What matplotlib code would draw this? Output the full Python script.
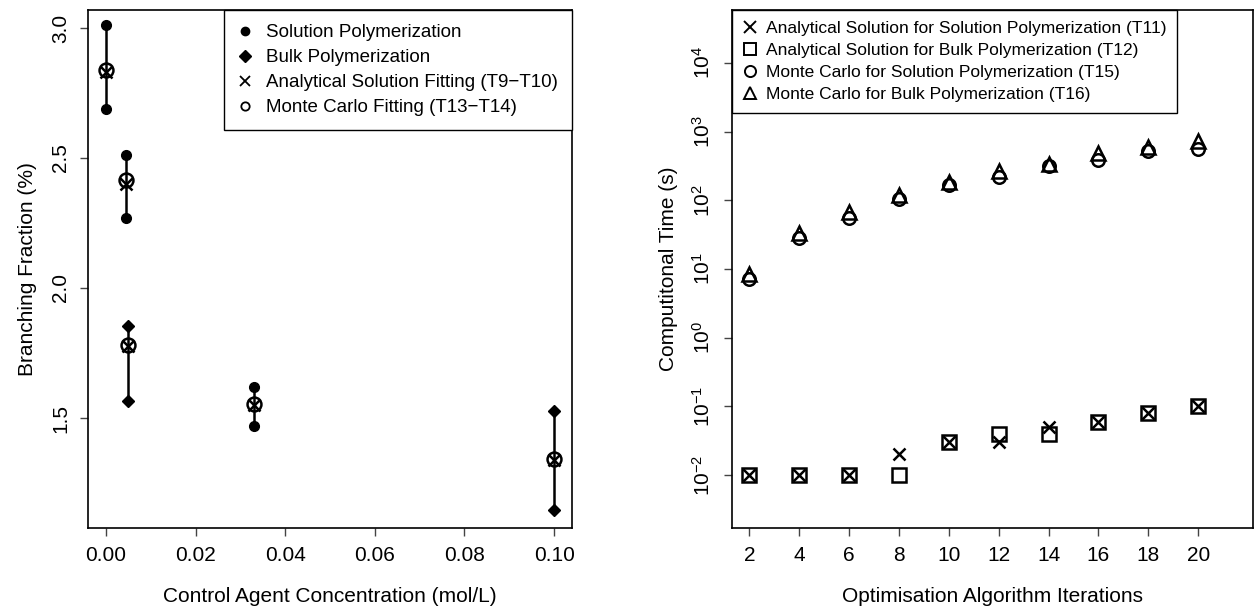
import numpy as np
import matplotlib
matplotlib.use("Agg")
import matplotlib.pyplot as plt
from matplotlib.lines import Line2D

plt.rcParams["font.family"] = ["Liberation Sans", "DejaVu Sans"]
plt.rcParams["mathtext.fontset"] = "custom"
plt.rcParams["mathtext.rm"] = "Liberation Sans"
plt.rcParams["mathtext.it"] = "Liberation Sans"

# ----------------------------------------
# Left panel data: branching fraction vs control agent
# ----------------------------------------
conc = [0.0, 0.0045, 0.005, 0.033, 0.10]
process = ["solution", "solution", "bulk", "solution", "bulk"]
branch_upper = [3.012, 2.51, 1.855, 1.62, 1.527]
branch_lower = [2.69, 2.27, 1.567, 1.47, 1.146]
analytical_fit = [2.83, 2.40, 1.775, 1.55, 1.340]
mc_fit = [2.84, 2.415, 1.780, 1.555, 1.342]

# ----------------------------------------
# Right panel data: computational time vs iterations
# ----------------------------------------
iterations = [2, 4, 6, 8, 10, 12, 14, 16, 18, 20]
an_solution = [0.01, 0.01, 0.01, 0.02, 0.03, 0.03, 0.05, 0.06, 0.08, 0.10]
an_bulk = [0.01, 0.01, 0.01, 0.01, 0.03, 0.04, 0.04, 0.06, 0.08, 0.10]
mc_solution = [7.1, 28, 56, 106, 166, 218, 316, 380, 520, 556]
mc_bulk = [8.5, 33, 67, 120, 185, 265, 343, 490, 600, 740]

FS = 15

fig = plt.figure(figsize=(12.55, 6.06), dpi=100)
ax1 = fig.add_axes([0.0701, 0.1287, 0.3857, 0.8548])
ax2 = fig.add_axes([0.583, 0.1287, 0.4154, 0.8548])

# ---- left panel ----
for x, p, hi, lo in zip(conc, process, branch_upper, branch_lower):
    m = "o" if p == "solution" else "D"
    ms = 7 if p == "solution" else 6.5
    ax1.plot([x, x], [lo, hi], color="black", lw=1.8, zorder=2)
    ax1.plot([x, x], [lo, hi], linestyle="none", marker=m, ms=ms,
             color="black", zorder=3)
ax1.plot(conc, analytical_fit, linestyle="none", marker="x", ms=9,
         mew=1.8, color="black", zorder=4)
ax1.plot(conc, mc_fit, linestyle="none", marker="o", ms=10, mew=1.8,
         mfc="none", mec="black", zorder=4)

ax1.set_xlim(-0.0040, 0.104)
ax1.set_ylim(1.077, 3.069)
ax1.set_xticks([0.0, 0.02, 0.04, 0.06, 0.08, 0.10])
ax1.set_xticklabels(["0.00", "0.02", "0.04", "0.06", "0.08", "0.10"])
ax1.set_yticks([1.5, 2.0, 2.5, 3.0])
ax1.set_yticklabels(["1.5", "2.0", "2.5", "3.0"], rotation=90, va="center")
ax1.set_xlabel("Control Agent Concentration (mol/L)", fontsize=FS, labelpad=16)
ax1.set_ylabel("Branching Fraction (%)", fontsize=FS, labelpad=10)

h1 = [
    Line2D([], [], linestyle="none", marker="o", ms=6, color="black"),
    Line2D([], [], linestyle="none", marker="D", ms=6, color="black"),
    Line2D([], [], linestyle="none", marker="x", ms=7, mew=1.3, color="black"),
    Line2D([], [], linestyle="none", marker="o", ms=6, mew=1.3,
           mfc="none", mec="black"),
]
l1 = ax1.legend(h1, ["Solution Polymerization", "Bulk Polymerization",
                     "Analytical Solution Fitting (T9\u2212T10)",
                     "Monte Carlo Fitting (T13\u2212T14)"],
                loc="upper right", borderaxespad=0, fontsize=13.5,
                fancybox=False, framealpha=1, edgecolor="black",
                handlelength=0.8, handletextpad=0.7, labelspacing=0.42,
                borderpad=0.75)
l1.get_frame().set_linewidth(1.0)

# ---- right panel ----
ax2.set_yscale("log")
ax2.plot(iterations, an_solution, linestyle="none", marker="x", ms=9,
         mew=1.8, color="black")
ax2.plot(iterations, an_bulk, linestyle="none", marker="s", ms=10,
         mew=1.8, mfc="none", mec="black")
ax2.plot(iterations, mc_solution, linestyle="none", marker="o", ms=9,
         mew=1.8, mfc="none", mec="black")
ax2.plot(iterations, mc_bulk, linestyle="none", marker="^", ms=10,
         mew=1.8, mfc="none", mec="black")

ax2.set_xlim(1.29, 22.2)
ax2.set_ylim(10 ** -2.77, 10 ** 4.77)
ax2.set_xticks(iterations)
exponents = list(range(-2, 5))
ax2.set_yticks([10.0 ** k for k in exponents])
ax2.set_yticklabels([r"$10^{%d}$" % k for k in exponents],
                    rotation=90, va="center")
ax2.yaxis.set_minor_locator(matplotlib.ticker.NullLocator())
ax2.set_xlabel("Optimisation Algorithm Iterations", fontsize=FS, labelpad=16)
ax2.set_ylabel("Computitonal Time (s)", fontsize=FS, labelpad=10)

h2 = [
    Line2D([], [], linestyle="none", marker="x", ms=8, mew=1.4, color="black"),
    Line2D([], [], linestyle="none", marker="s", ms=8, mew=1.4,
           mfc="none", mec="black"),
    Line2D([], [], linestyle="none", marker="o", ms=8, mew=1.4,
           mfc="none", mec="black"),
    Line2D([], [], linestyle="none", marker="^", ms=9, mew=1.4,
           mfc="none", mec="black"),
]
l2 = ax2.legend(h2, ["Analytical Solution for Solution Polymerization (T11)",
                     "Analytical Solution for Bulk Polymerization (T12)",
                     "Monte Carlo for Solution Polymerization (T15)",
                     "Monte Carlo for Bulk Polymerization (T16)"],
                loc="upper left", borderaxespad=0, fontsize=12.5,
                fancybox=False, framealpha=1, edgecolor="black",
                handlelength=0.8, handletextpad=0.5, labelspacing=0.38,
                borderpad=0.65)
l2.get_frame().set_linewidth(1.0)

for ax in (ax1, ax2):
    ax.tick_params(axis="both", which="major", direction="out", length=6,
                   width=1, labelsize=FS, pad=7, color="#444444")
    for s in ax.spines.values():
        s.set_linewidth(1.2)
        s.set_color("black")

fig.savefig("out.png", dpi=100)
